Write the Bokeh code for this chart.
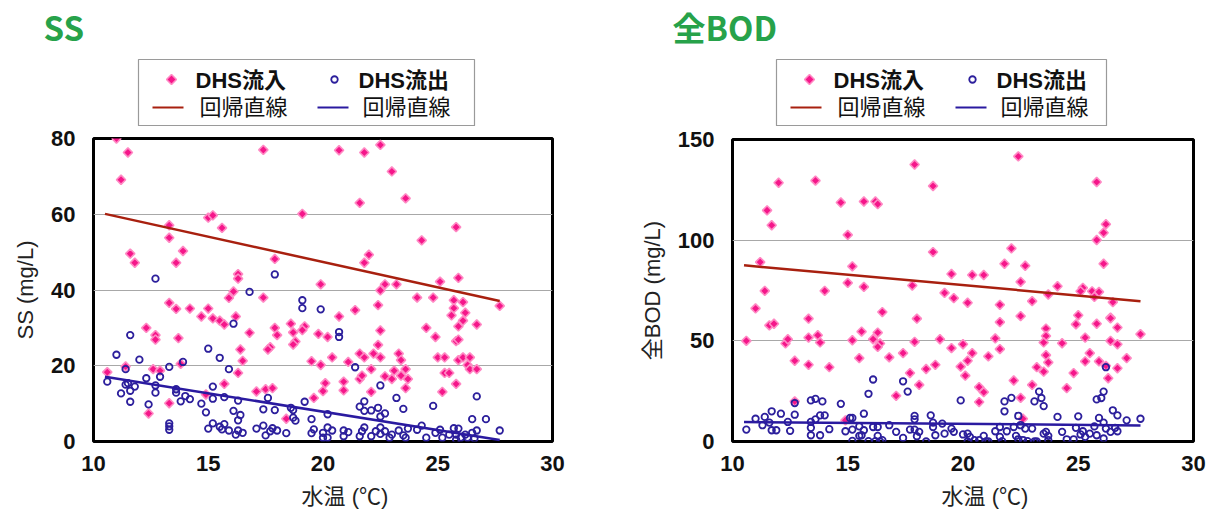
from bokeh.plotting import figure
from bokeh.models import Range1d, FixedTicker
from bokeh.layouts import row, column
from bokeh.core.properties import value
from bokeh.embed import file_html
from bokeh.resources import INLINE

# ---------------------------------------------------------------- data
# water temperature (deg C) and concentration (mg/L) pairs per series
ss_inflow = [
    (11.0, 80.0), (11.5, 76.3), (11.2, 69.1), (13.3, 57.1), (13.3, 53.8), (15.0, 59.1),
    (15.2, 59.7), (15.6, 56.4), (11.6, 49.6), (11.8, 47.2), (13.9, 50.3), (13.6, 47.2),
    (17.9, 48.2), (17.4, 77.0), (19.1, 60.1), (16.3, 44.2), (16.3, 43.0), (19.9, 41.5),
    (16.1, 39.6), (15.9, 37.9), (17.4, 38.0), (13.3, 36.6), (13.6, 35.0), (14.2, 35.1),
    (15.0, 35.1), (14.7, 33.0), (15.2, 32.5), (15.5, 31.9), (15.7, 30.9), (16.2, 33.0),
    (12.3, 30.0), (12.7, 28.1), (12.7, 26.9), (13.7, 27.3), (16.8, 28.7), (17.9, 30.0),
    (18.0, 28.1), (18.6, 31.1), (18.7, 28.8), (19.2, 30.4), (19.1, 29.4), (19.8, 28.4),
    (18.8, 26.4), (18.7, 25.6), (17.7, 24.9), (17.6, 24.3), (16.4, 24.3), (16.5, 21.3),
    (19.5, 21.2), (19.9, 20.2), (13.8, 20.5), (12.6, 19.1), (12.9, 18.7), (11.4, 19.8),
    (10.6, 18.3), (16.3, 18.1), (15.7, 15.2), (17.1, 13.2), (17.5, 13.8), (17.8, 14.1),
    (19.6, 11.5), (14.9, 12.4), (13.3, 10.1), (12.4, 7.4), (18.4, 6.0), (20.7, 76.9),
    (21.8, 76.3), (22.5, 78.3), (23.0, 71.3), (23.6, 64.2), (21.6, 63.0), (25.8, 56.6),
    (24.3, 53.1), (22.0, 49.3), (21.8, 47.2), (22.7, 41.5), (22.5, 39.9), (23.2, 41.5),
    (25.1, 42.2), (25.9, 43.2), (24.1, 38.0), (24.8, 38.0), (25.7, 37.3), (26.1, 36.8),
    (27.7, 35.8), (25.7, 35.2), (26.2, 34.0), (25.6, 33.3), (26.1, 31.9), (25.9, 30.4),
    (26.7, 30.9), (22.4, 36.0), (21.4, 34.7), (20.7, 33.0), (22.5, 29.3), (24.5, 30.0),
    (24.9, 27.6), (25.8, 26.5), (25.9, 26.9), (20.2, 27.6), (22.4, 25.5), (21.6, 23.2),
    (21.8, 22.2), (22.2, 23.2), (22.5, 22.2), (23.3, 23.2), (23.4, 21.5), (20.4, 22.2),
    (21.1, 21.0), (22.1, 19.1), (23.6, 19.1), (25.0, 22.2), (25.3, 22.2), (25.9, 21.5),
    (26.1, 22.2), (26.4, 22.2), (26.3, 20.2), (26.4, 19.1), (26.7, 19.1), (25.3, 18.1),
    (25.5, 18.1), (23.1, 18.7), (22.7, 17.2), (21.6, 16.5), (21.7, 17.4), (23.4, 17.4),
    (23.0, 16.5), (23.7, 16.5), (20.1, 15.4), (20.9, 15.8), (20.9, 13.5), (20.0, 13.3),
    (25.8, 15.2), (22.1, 13.1), (23.6, 14.1), (25.2, 13.1),
]

ss_outflow = [
    (12.7, 43.0), (17.9, 44.1), (16.8, 39.5), (19.1, 37.3), (19.1, 35.2), (19.9, 34.9),
    (16.1, 31.1), (11.6, 28.1), (15.0, 24.5), (15.5, 22.1), (11.0, 22.9), (12.0, 21.6),
    (13.9, 21.0), (11.4, 19.1), (13.3, 19.7), (15.9, 19.1), (10.6, 15.8), (12.3, 16.7),
    (12.9, 17.1), (11.4, 15.0), (11.5, 15.4), (11.8, 14.5), (11.6, 13.4), (11.2, 12.7),
    (12.7, 14.8), (12.7, 12.9), (13.6, 13.8), (13.6, 12.9), (14.0, 12.0), (14.2, 11.2),
    (13.8, 10.6), (15.2, 14.5), (15.2, 11.3), (15.7, 11.7), (16.3, 10.8), (11.6, 10.5),
    (12.4, 9.8), (14.7, 10.0), (14.9, 7.7), (16.1, 8.1), (16.4, 7.0), (16.3, 5.6),
    (17.4, 8.5), (17.9, 8.3), (17.6, 11.5), (18.6, 8.9), (18.7, 8.3), (19.2, 10.5),
    (19.5, 5.9), (18.7, 6.3), (18.8, 5.5), (13.3, 4.8), (13.3, 4.0), (13.3, 3.1),
    (15.2, 4.8), (15.0, 3.4), (15.5, 3.9), (15.6, 3.2), (15.7, 4.6), (15.9, 2.9),
    (16.3, 2.9), (16.5, 2.3), (16.2, 1.8), (17.1, 3.4), (17.4, 4.2), (17.5, 1.6),
    (17.7, 2.7), (17.8, 3.5), (18.0, 2.9), (18.4, 2.2), (19.5, 2.2), (19.6, 3.2),
    (20.0, 1.0), (20.7, 28.9), (20.7, 27.6), (21.4, 19.6), (22.5, 14.8), (23.2, 11.5),
    (21.8, 10.6), (21.6, 9.2), (21.8, 8.1), (22.1, 8.2), (22.4, 8.9), (22.7, 7.4),
    (23.5, 8.6), (22.5, 6.6), (20.2, 7.2), (24.8, 9.4), (26.7, 11.9), (26.5, 5.9),
    (27.1, 5.9), (27.7, 2.9), (20.2, 3.7), (20.4, 2.9), (20.0, 2.3), (20.2, 1.0),
    (20.9, 2.9), (21.1, 2.5), (20.9, 1.4), (21.7, 2.7), (21.8, 3.7), (21.6, 1.4),
    (22.1, 1.4), (22.3, 2.7), (22.5, 3.7), (22.7, 2.7), (22.5, 2.0), (23.0, 1.8),
    (22.9, 1.0), (23.3, 2.9), (23.5, 1.6), (23.6, 1.0), (23.7, 3.4), (24.1, 3.1),
    (24.3, 4.2), (24.5, 1.0), (24.9, 2.3), (25.1, 3.1), (25.2, 1.0), (25.5, 1.8),
    (25.7, 3.5), (25.9, 3.4), (25.8, 1.8), (26.0, 1.0), (26.2, 1.8), (26.5, 2.3),
    (26.3, 1.0), (26.7, 2.9), (26.6, 0.8), (25.8, 0.5),
]

bod_inflow = [
    (11.0, 66.1), (11.2, 89.1), (11.4, 74.8), (11.5, 114.8), (11.7, 107.4), (12.0, 128.5),
    (13.6, 129.6), (14.0, 74.8), (14.7, 118.7), (15.0, 102.6), (15.2, 87.0), (15.0, 78.8),
    (15.7, 119.2), (15.7, 76.8), (16.2, 119.2), (16.3, 117.9), (16.5, 64.3), (17.8, 77.5),
    (17.9, 137.6), (18.7, 126.9), (18.7, 94.1), (13.3, 61.0), (18.0, 61.0), (22.4, 141.6),
    (25.8, 128.9), (26.2, 107.9), (26.1, 103.7), (25.8, 100.1), (22.1, 95.9), (21.8, 88.3),
    (22.7, 87.3), (26.1, 88.3), (19.5, 83.2), (20.4, 82.7), (20.9, 82.7), (22.5, 79.3),
    (24.1, 77.1), (19.2, 73.8), (19.6, 71.2), (20.2, 68.9), (21.6, 67.9), (23.0, 69.7),
    (23.7, 73.0), (25.2, 76.3), (25.1, 74.6), (25.6, 74.6), (25.9, 74.3), (25.7, 71.8),
    (26.5, 69.2), (25.0, 62.7), (22.5, 62.3), (26.4, 61.5), (10.6, 50.0), (11.6, 57.7),
    (11.8, 58.5), (12.3, 48.7), (12.4, 50.8), (12.7, 40.1), (13.3, 51.6), (13.3, 38.1),
    (13.7, 52.8), (13.8, 49.2), (14.2, 36.9), (15.2, 50.3), (15.6, 54.6), (15.5, 41.4),
    (16.1, 50.8), (16.3, 54.1), (16.4, 48.7), (16.3, 47.0), (16.8, 41.8), (17.4, 43.9),
    (17.7, 34.0), (17.9, 49.5), (18.1, 28.1), (17.1, 22.7), (18.4, 36.0), (18.8, 38.1),
    (12.7, 19.9), (14.9, 10.5), (19.0, 50.8), (21.6, 59.3), (24.9, 58.2), (25.8, 58.5),
    (26.4, 61.2), (26.7, 56.6), (27.7, 53.3), (23.6, 56.1), (23.6, 52.4), (23.5, 49.2),
    (24.3, 48.8), (25.3, 51.6), (26.4, 50.0), (26.7, 48.3), (19.5, 46.4), (20.0, 48.3),
    (20.4, 43.9), (20.2, 40.1), (19.9, 37.2), (20.1, 32.7), (21.1, 42.3), (21.4, 51.2),
    (21.6, 45.9), (23.6, 42.9), (23.7, 39.3), (23.2, 36.9), (23.5, 34.7), (25.5, 43.9),
    (25.3, 39.8), (25.9, 39.8), (26.2, 37.6), (26.7, 36.4), (27.1, 41.4), (24.8, 34.0),
    (26.3, 31.4), (22.2, 30.3), (23.0, 28.1), (24.5, 26.5), (20.7, 27.0), (20.9, 24.5),
    (22.5, 21.7), (20.7, 19.6), (22.6, 11.3),
]

bod_outflow = [
    (10.6, 5.9), (11.0, 11.3), (11.3, 8.1), (11.4, 12.2), (11.6, 9.4), (11.7, 15.0),
    (11.7, 5.6), (11.9, 5.6), (12.1, 13.8), (12.4, 9.7), (12.5, 5.3), (12.7, 19.1),
    (12.7, 13.3), (13.4, 20.4), (13.4, 9.7), (13.4, 6.8), (13.4, 3.1), (13.6, 21.2),
    (13.6, 11.0), (13.8, 13.0), (13.8, 3.1), (13.9, 19.9), (14.0, 13.0), (14.2, 6.1),
    (14.7, 18.7), (14.9, 5.1), (15.1, 11.7), (15.2, 11.7), (15.2, 5.9), (15.2, 0.3),
    (15.5, 7.5), (15.5, 2.8), (15.6, 3.1), (15.7, 13.8), (15.7, 5.6), (15.9, 23.7),
    (15.9, 0.2), (16.1, 30.8), (16.1, 7.2), (16.3, 7.2), (16.3, 2.8), (16.2, 0.2),
    (16.4, 0.0), (16.5, 0.7), (16.8, 8.1), (17.1, 4.8), (17.4, 1.8), (17.4, 29.9),
    (17.6, 24.8), (17.7, 5.9), (17.9, 5.9), (17.9, 12.7), (17.9, 11.0), (18.0, 2.6),
    (18.1, 4.8), (18.4, 0.0), (18.6, 13.0), (18.7, 9.4), (18.7, 7.2), (18.8, 3.1),
    (19.1, 8.9), (19.2, 3.9), (19.5, 6.4), (19.6, 4.8), (19.9, 20.4), (20.0, 3.5),
    (20.2, 0.0), (20.2, 3.9), (20.3, 2.3), (20.5, 0.7), (20.7, 0.7), (20.9, 2.8),
    (21.0, 0.0), (21.1, 0.0), (21.4, 5.1), (21.6, 7.2), (21.6, 2.3), (21.7, 0.2),
    (21.8, 19.9), (21.8, 15.0), (21.9, 5.1), (22.1, 21.7), (22.2, 7.2), (22.3, 2.8),
    (22.4, 12.7), (22.4, 1.1), (22.5, 8.1), (22.6, 0.7), (22.7, 6.4), (22.8, 0.2),
    (23.0, 6.4), (23.1, 0.0), (23.1, 19.9), (23.2, 0.0), (23.3, 24.8), (23.4, 21.6),
    (23.5, 17.6), (23.5, 3.9), (23.6, 4.8), (23.7, 2.8), (23.7, 0.7), (24.1, 12.2),
    (24.3, 4.8), (24.5, 1.1), (24.8, 1.1), (24.9, 6.8), (25.0, 12.5), (25.1, 3.5),
    (25.2, 5.1), (25.3, 2.3), (25.5, 3.9), (25.7, 7.5), (25.8, 3.1), (25.8, 20.9),
    (25.9, 11.7), (26.0, 21.6), (26.1, 24.8), (26.1, 9.4), (26.1, 1.5), (26.2, 36.9),
    (26.2, 6.4), (26.4, 4.8), (26.5, 15.5), (26.6, 6.8), (26.7, 5.1), (26.7, 13.0),
    (27.1, 10.5), (27.7, 11.3),
]

# regression lines: value at the first and last temperature
fit_temp = [10.5, 27.7]
ss_fit_in = [60.1, 37.1]
ss_fit_out = [17.1, 0.4]
bod_fit_in = [87.5, 69.7]
bod_fit_out = [9.7, 8.0]

temp_ticks = [10, 15, 20, 25, 30]
ss_ticks = [0, 20, 40, 60, 80]
bod_ticks = [0, 50, 100, 150]

legend_labels = ["DHS流入", "DHS流出", "回帰直線", "回帰直線"]
x_label = "\u3000\u3000水温 (℃)"

# ---------------------------------------------------------------- style
SANS = "'Liberation Sans', 'Noto Sans CJK JP', sans-serif"
HEAD = "'Noto Sans CJK JP', sans-serif"
PINK = "#f5168a"
PINK_EDGE = "#ff8ac4"
NAVY = "#2c1f9c"
RED_LINE = "#a8200f"
BLUE_LINE = "#2a1aa0"
GREEN = "#27a24a"

W = 605           # width of each panel
TITLE_H = 56      # strip holding the panel title
LEG_H = 70        # strip holding the legend box
MAIN_H = 511 - TITLE_H - LEG_H


def unzip(pairs):
    return [a for a, _ in pairs], [b for _, b in pairs]


def blank(height, left, right, **kw):
    f = figure(width=W, height=height, output_backend="svg",
               toolbar_location=None, min_border_left=left,
               min_border_right=right, min_border_top=0, min_border_bottom=0,
               outline_line_color=None, x_axis_location=None,
               y_axis_location=None, background_fill_color="white",
               border_fill_color="white", **kw)
    f.grid.visible = False
    return f


def title_strip(left, right, title, title_x):
    t = blank(TITLE_H, left, right, x_range=Range1d(0, 1), y_range=Range1d(0, 1))
    t.title.text = title
    t.title.align = "left"
    t.title.offset = title_x - left
    t.title.standoff = 0
    t.title.text_font = HEAD
    t.title.text_font_style = "bold"
    t.title.text_font_size = "33px"
    t.title.text_color = GREEN
    return t


def legend_strip(left, right, x0, box_w):
    # x units equal page pixels, y runs downward in page pixels
    bottom = TITLE_H + LEG_H
    h = blank(LEG_H, left, right, x_range=Range1d(left, W - right),
              y_range=Range1d(bottom, TITLE_H))
    h.quad(left=[x0], right=[x0 + box_w], top=[59], bottom=[bottom - 0.8],
           fill_color="white", line_color="#9a9a9a", line_width=1.2)
    r1, r2 = 79, 107
    h.scatter([x0 + 33], [r1], marker="square", angle=0.785398, size=7,
              fill_color=PINK, line_color=PINK_EDGE, line_width=1.6)
    h.scatter([x0 + 196], [r1], marker="circle", size=6.5, fill_color=None,
              line_color=NAVY, line_width=1.8)
    h.line([x0 + 14, x0 + 45], [r2, r2], line_color=RED_LINE, line_width=2)
    h.line([x0 + 179, x0 + 210], [r2, r2], line_color=BLUE_LINE, line_width=2)
    h.text([x0 + 57, x0 + 220], [r1 + 1, r1 + 1], text=legend_labels[:2],
           text_font=value(SANS), text_font_style="bold",
           text_font_size="22px", text_color="#111111",
           text_baseline="middle", text_align="left")
    h.text([x0 + 61, x0 + 224], [r2, r2], text=legend_labels[2:],
           text_font=value(SANS), text_font_style="normal",
           text_font_size="22px", text_color="#111111",
           text_baseline="middle", text_align="left")
    return h


def main_plot(left, right, top, bottom, y_end, y_ticks, y_label,
              inflow, outflow, fit_in, fit_out):
    p = figure(width=W, height=MAIN_H, x_range=Range1d(10, 30),
               y_range=Range1d(0, y_end), output_backend="svg",
               toolbar_location=None, min_border_left=left,
               min_border_right=right, min_border_top=top,
               min_border_bottom=bottom, background_fill_color="white",
               border_fill_color="white")
    p.outline_line_color = "black"
    p.outline_line_width = 3
    p.xgrid.visible = False
    p.ygrid.grid_line_color = "#a8a8a8"
    p.ygrid.grid_line_width = 1
    p.xaxis.ticker = FixedTicker(ticks=temp_ticks)
    p.yaxis.ticker = FixedTicker(ticks=y_ticks)
    for ax in (p.xaxis[0], p.yaxis[0]):
        ax.axis_line_color = None
        ax.major_tick_line_color = None
        ax.minor_tick_line_color = None
        ax.major_label_text_font = SANS
        ax.major_label_text_font_style = "bold"
        ax.major_label_text_font_size = "22px"
        ax.major_label_text_color = "#111111"
        ax.axis_label_text_font = SANS
        ax.axis_label_text_font_style = "normal"
        ax.axis_label_text_font_size = "22px"
        ax.axis_label_text_color = "#222222"
    p.xaxis.major_label_standoff = 8
    p.yaxis.major_label_standoff = 12
    p.xaxis.axis_label = x_label
    p.xaxis.axis_label_standoff = 10
    p.yaxis.axis_label = y_label
    p.yaxis.axis_label_standoff = 10

    tx, ty = unzip(inflow)
    p.scatter(tx, ty, marker="square", angle=0.785398, size=6.5,
              fill_color=PINK, line_color=PINK_EDGE, line_width=1.6)
    ox, oy = unzip(outflow)
    p.scatter(ox, oy, marker="circle", size=6.5, fill_color=None,
              line_color=NAVY, line_width=1.8)
    p.line(fit_temp, fit_in, line_color=RED_LINE, line_width=2.5)
    p.line(fit_temp, fit_out, line_color=BLUE_LINE, line_width=2.5)
    return p


ss_panel = column(
    title_strip(93, 53, "SS", 43),
    legend_strip(93, 53, 138, 336),
    main_plot(93, 53, 12, 64, 80, ss_ticks, "SS (mg/L)",
              ss_inflow, ss_outflow, ss_fit_in, ss_fit_out),
    spacing=0)

bod_panel = column(
    title_strip(127, 17, "全BOD", 67),
    legend_strip(127, 17, 171, 330),
    main_plot(127, 17, 13, 67, 150, bod_ticks, "全BOD (mg/L)",
              bod_inflow, bod_outflow, bod_fit_in, bod_fit_out),
    spacing=0)

layout = row(ss_panel, bod_panel, spacing=0)

open("out.html", "w").write(file_html(layout, INLINE))
